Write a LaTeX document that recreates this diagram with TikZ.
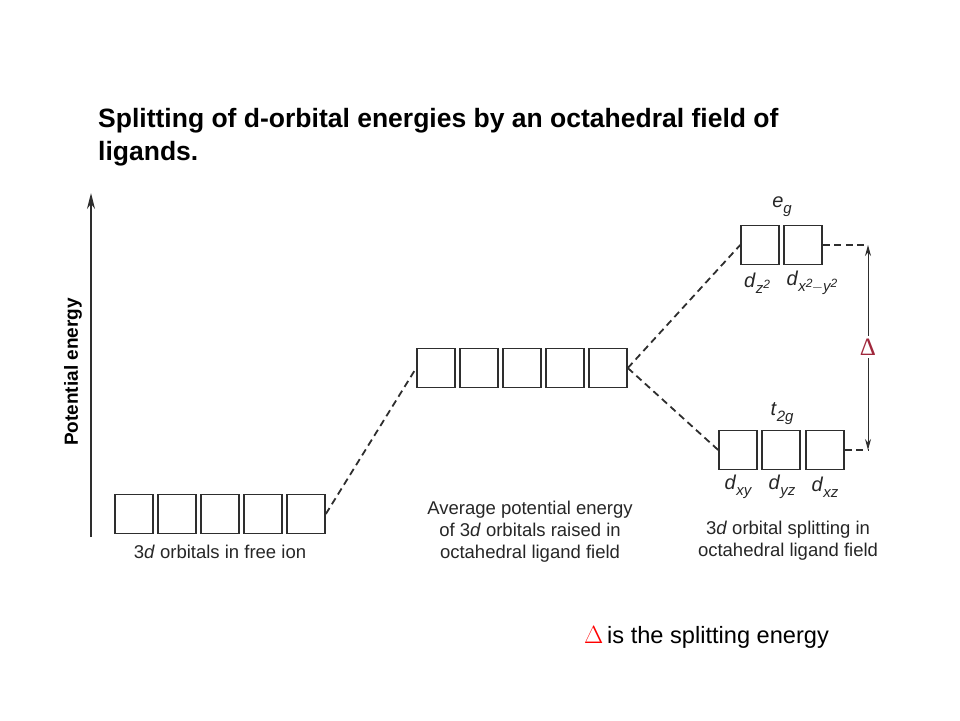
\documentclass[tikz,border=0pt]{standalone}
\usepackage{fontspec}
\setmainfont{Liberation Sans}
\newfontfamily\serifgr{Liberation Serif}
\usetikzlibrary{arrows.meta}
\definecolor{ln}{HTML}{2E2E2E}
\definecolor{dred}{HTML}{A0283C}
\newcommand\fsz[1]{\fontsize{#1}{#1}\selectfont}
\newcommand\sbs[1]{\raisebox{-0.3em}{\fsz{15}\itshape #1}}
\newcommand\sps[1]{\raisebox{0.3em}{\fsz{12}#1}}
\begin{document}
\begin{tikzpicture}[x=1pt,y=-1pt,
  orb/.style={draw=ln,line width=1.6pt,minimum width=38pt,minimum height=39pt,inner sep=0pt},
  dsh/.style={draw=ln,line width=1.8pt,dash pattern=on 7pt off 4.5pt},
  lbl/.style={font=\fsz{20},text=black!85,inner sep=0pt},
  captxt/.style={text=black!85,align=center,inner sep=0pt,font=\fontsize{18.5}{22}\selectfont}]
\useasboundingbox (0,0) rectangle (960,720);
% title
\node[anchor=base west,font=\bfseries\fsz{26.5},inner sep=0pt] (t1) at (98,127) {Splitting of d-orbital energies by an octahedral field of};
\node[anchor=base west,font=\bfseries\fsz{26.5},inner sep=0pt] (t2) at (98,160) {ligands.};
% axis
\coordinate (a0) at (91,537);
\coordinate (a1) at (91,193);
\draw[ln,line width=1.5pt,-{Stealth[length=16pt,width=8pt]}] (a0) -- (a1);
\node[rotate=90,font=\bfseries\fsz{19},inner sep=0pt] (pe) at (73,372) {Potential energy};
% coordinates for the splitting arrow
\coordinate (c1) at (868,245);
\coordinate (c2) at (868,450);
% free ion boxes
\foreach \i/\x in {1/134,2/177,3/220,4/263,5/306}{\node[orb] (f\i) at (\x,514) {};}
\node[captxt] (fl) at (220,552) {3\textit{d} orbitals in free ion};
% middle boxes
\foreach \i/\x in {1/436,2/479,3/522,4/565,5/608}{\node[orb] (m\i) at (\x,368) {};}
\node[captxt] (ml) at (530,532) {Average potential energy\\of 3\textit{d} orbitals raised in\\octahedral ligand field};
% eg boxes
\node[orb] (e1) at (760,245) {};
\node[orb] (e2) at (803,245) {};
\node[lbl] (eg) at (782,207) {\textit{e}\sbs{g}};
\node[lbl] (dz) at (757,283) {\textit{d}\sbs{z\sps{2}}};
\node[lbl] (dx) at (812,283) {\textit{d}\sbs{x\sps{2}\kern-0.5pt{\upshape\fsz{14}$-$}y\sps{2}}};
% t2g boxes
\node[orb] (s1) at (738,450) {};
\node[orb] (s2) at (781,450) {};
\node[orb] (s3) at (825,450) {};
\node[lbl] (tg) at (782,414) {\textit{t}\sbs{2g}};
\node[lbl] (dxy) at (738,487) {\textit{d}\sbs{xy}};
\node[lbl] (dyz) at (782,487) {\textit{d}\sbs{yz}};
\node[lbl] (dxz) at (825,487) {\textit{d}\sbs{xz}};
\node[captxt] (sl) at (788,541) {3\textit{d} orbital splitting in\\octahedral ligand field};
% connectors
\draw[dsh] (f5.east) -- (m1.west);
\draw[dsh] (m5.east) -- (e1.west);
\draw[dsh] (m5.east) -- (s1.west);
\draw[dsh] (e2.east) -- (c1);
\draw[dsh] (s3.east) -- (c2);
\draw[ln,line width=1pt,{Stealth[length=11pt,width=6pt]}-{Stealth[length=11pt,width=6pt]}] (c1) -- (c2);
\node[fill=white,text=dred,font=\serifgr\fsz{25},inner sep=3pt] (dl) at (868,347) {Δ};
% bottom note
\node[anchor=base west,text=red,font=\fsz{23},inner sep=0pt] (bd) at (584,643) {$\Delta$};
\node[anchor=base west,font=\fsz{23.6},inner sep=0pt] (bt) at (607,643) {is the splitting energy};
\end{tikzpicture}
\end{document}
